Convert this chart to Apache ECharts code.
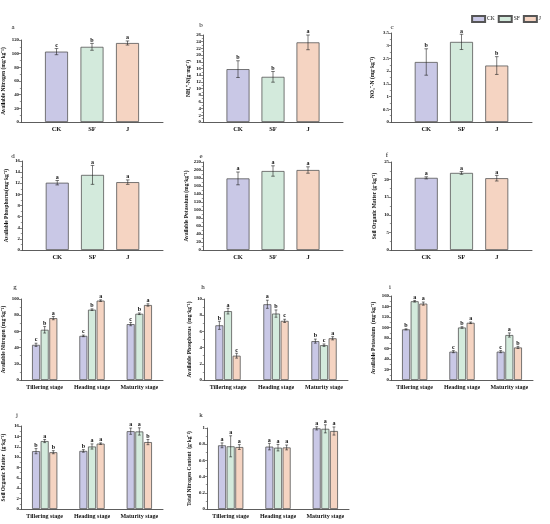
<!DOCTYPE html>
<html>
<head>
<meta charset="utf-8">
<script src="https://cdn.jsdelivr.net/npm/echarts@6/dist/echarts.min.js"></script>
<style>
  html, body { margin: 0; padding: 0; background: #fff; }
  #chart { width: 550px; height: 524px; }
</style>
</head>
<body>
<div id="chart"></div>
<script>
// categories
const treatments = ['CK', 'SF', 'J'];
const stages = ['Tillering stage', 'Heading stage', 'Maturity stage'];
const colors = ['#c9c8e6', '#d3eadc', '#f5d4c2'];

// panels a-f: one value per treatment
const availN = [103, 110, 115.6];
const availNErr = [4.5, 5, 3];
const availNSig = ['c', 'b', 'a'];

const nh4 = [15.8, 13.5, 23.8];
const nh4Err = [2.5, 1.6, 2.2];
const nh4Sig = ['b', 'b', 'a'];

const no3 = [2.36, 3.15, 2.22];
const no3Err = [0.52, 0.3, 0.35];
const no3Sig = ['b', 'a', 'b'];

const availP = [12.1, 13.5, 12.2];
const availPErr = [0.4, 1.7, 0.4];
const availPSig = ['a', 'a', 'a'];

const availK = [179, 197.5, 200];
const availKErr = [16, 13, 8];
const availKSig = ['a', 'a', 'a'];

const som = [20.5, 21.9, 20.4];
const somErr = [0.3, 0.4, 0.8];
const somSig = ['a', 'a', 'a'];

// panels g-k: rows = CK, SF, J; columns = stages
const stageN = [[43.4, 54.5, 69], [62, 86.8, 81.8], [76.4, 98, 92.6]];
const stageNErr = [[2, 1, 2], [4, 1, 1], [2, 1, 1.5]];
const stageNSig = [['c', 'c', 'c'], ['b', 'b', 'b'], ['a', 'a', 'a']];

const stageP = [[6.75, 9.35, 4.8], [8.5, 8.2, 4.3], [3.0, 7.3, 5.15]];
const stagePErr = [[0.5, 0.5, 0.25], [0.35, 0.45, 0.15], [0.3, 0.2, 0.2]];
const stagePSig = [['b', 'a', 'b'], ['a', 'b', 'c'], ['c', 'c', 'a']];

const stageK = [[96.5, 54, 54], [150, 100, 85.7], [145.5, 109, 62]];
const stageKErr = [[1, 2, 2], [1.5, 1.5, 4], [3, 1.5, 2]];
const stageKSig = [['b', 'c', 'c'], ['a', 'b', 'a'], ['a', 'a', 'b']];

const stageSom = [[11.15, 11.2, 15.0], [13.1, 12.05, 14.95], [10.95, 12.6, 12.9]];
const stageSomErr = [[0.5, 0.25, 0.6], [0.3, 0.5, 0.7], [0.3, 0.15, 0.5]];
const stageSomSig = [['b', 'b', 'a'], ['a', 'a', 'a'], ['b', 'a', 'b']];

const stageTn = [[0.786, 0.77, 0.996], [0.774, 0.757, 0.99], [0.765, 0.76, 0.963]];
const stageTnErr = [[0.03, 0.04, 0.02], [0.13, 0.04, 0.05], [0.03, 0.03, 0.05]];
const stageTnSig = [['a', 'a', 'a'], ['a', 'a', 'a'], ['a', 'a', 'a']];

const FONT = 'Liberation Serif';

// box = [left, top, width, height] of each plot area
const panels = [
  { tag: 'a', at: [13, 27], box: [21, 40, 142, 82], max: 120, step: 20, gap: 14,
    name: 'Available Nitrogen (mg·kg⁻¹)', mean: availN, err: availNErr, sig: availNSig },
  { tag: 'b', at: [201, 25], box: [203, 35, 140, 87], max: 26, step: 2, gap: 11,
    name: 'NH₄⁺-N(g·mg⁻¹)', mean: nh4, err: nh4Err, sig: nh4Sig },
  { tag: 'c', at: [392, 27], box: [391, 33, 141, 89], max: 3.5, step: 0.5, gap: 15,
    name: 'NO₃⁻-N (mg·kg⁻¹)', mean: no3, err: no3Err, sig: no3Sig },
  { tag: 'd', at: [13, 156], box: [22, 161, 141, 89], max: 16, step: 2, gap: 12,
    name: 'Available Phosphorus(mg·kg⁻¹)', mean: availP, err: availPErr, sig: availPSig },
  { tag: 'e', at: [201, 156], box: [203, 162, 140, 88], max: 220, step: 20, gap: 10,
    name: 'Available Potassium (mg·kg⁻¹)', mean: availK, err: availKErr, sig: availKSig },
  { tag: 'f', at: [387, 155], box: [391, 162, 141, 88], max: 25, step: 5, gap: 13,
    name: 'Soil Organic Matter (g·kg⁻¹)', mean: som, err: somErr, sig: somSig },
  { tag: 'g', at: [15, 287], box: [21, 299, 142, 81], max: 100, step: 20, gap: 14, grouped: true,
    name: 'Available Nitrogen (mg·kg⁻¹)', mean: stageN, err: stageNErr, sig: stageNSig },
  { tag: 'h', at: [203, 287], box: [204, 299, 144, 81], max: 10, step: 2, gap: 11, grouped: true,
    name: 'Available Phosphorus  (mg·kg⁻¹)', mean: stageP, err: stagePErr, sig: stagePSig },
  { tag: 'i', at: [390, 287], box: [391, 296, 142, 84], max: 160, step: 20, gap: 14, grouped: true,
    name: 'Available Potassium  (mg·kg⁻¹)', mean: stageK, err: stageKErr, sig: stageKSig },
  { tag: 'j', at: [17, 415], box: [21, 426, 142, 83], max: 16, step: 2, gap: 14, grouped: true,
    name: 'Soil Organic Matter  (g·kg⁻¹)', mean: stageSom, err: stageSomErr, sig: stageSomSig },
  { tag: 'k', at: [201, 415], box: [207, 428, 142, 81], max: 1.0, step: 0.2, gap: 14, grouped: true,
    name: 'Total Nitrogen Content  (g·kg⁻¹)', mean: stageTn, err: stageTnErr, sig: stageTnSig }
];

const grids = [], xAxes = [], yAxes = [], series = [], graphics = [];

/** Error bars + significance letters, drawn on the same axes as the bars
 * @param {number} i panel index
 * @param {number[][]} data [x, mean, err]
 * @param {string[]} sig
 * @param {number} dx pixel offset inside a group
 */
function errSeries(i, data, sig, dx, cap) {
  return {
    type: 'custom', xAxisIndex: i, yAxisIndex: i, data, silent: true, z: 5,
    renderItem(params, api) {
      const x = api.value(0), v = api.value(1), e = api.value(2);
      const hi = api.coord([x, v + e]);
      const lo = api.coord([x, v - e]);
      const cx = hi[0] + dx;
      const line = { stroke: '#222', lineWidth: 0.6 };
      return {
        type: 'group',
        children: [
          { type: 'line', shape: { x1: cx, y1: hi[1], x2: cx, y2: lo[1] }, style: line },
          { type: 'line', shape: { x1: cx - cap, y1: hi[1], x2: cx + cap, y2: hi[1] }, style: line },
          { type: 'line', shape: { x1: cx - cap, y1: lo[1], x2: cx + cap, y2: lo[1] }, style: line },
          { type: 'text', x: cx, y: hi[1] - 0.3,
            style: { text: sig[params.dataIndex], fill: '#111', fontSize: 6, fontWeight: 'bold',
                     fontFamily: FONT, align: 'center', verticalAlign: 'bottom' } }
        ]
      };
    }
  };
}

panels.forEach((p, i) => {
  const grouped = !!p.grouped;
  grids.push({ left: p.box[0], top: p.box[1], width: p.box[2], height: p.box[3] });
  xAxes.push({
    type: 'category', gridIndex: i,
    data: grouped ? stages : ['', ...treatments, ''],
    boundaryGap: grouped,
    axisLine: { lineStyle: { color: '#333', width: 0.8 } },
    axisTick: { show: false },
    axisLabel: { interval: 0, fontFamily: FONT, fontWeight: 'bold', fontSize: grouped ? 6 : 6.5,
                 color: '#111', margin: 4 }
  });
  yAxes.push({
    type: 'value', gridIndex: i, min: 0, max: p.max, interval: p.step,
    name: p.name, nameLocation: 'middle', nameGap: p.gap, nameRotate: 90,
    nameTextStyle: { fontFamily: FONT, fontWeight: 'bold', fontSize: 5.5, color: '#111' },
    axisLine: { show: true, lineStyle: { color: '#333', width: 0.8 } },
    axisTick: { show: true, length: 2, lineStyle: { color: '#333', width: 0.6 } },
    minorTick: { show: true, splitNumber: 2, length: 1.2, lineStyle: { color: '#333', width: 0.5 } },
    splitLine: { show: false },
    axisLabel: { fontFamily: FONT, fontWeight: 'bold', fontSize: 4.8, color: '#111', margin: 2 }
  });
  graphics.push({
    type: 'text', x: p.at[0], y: p.at[1],
    style: { text: p.tag, fontSize: 7, fontFamily: FONT, fill: '#111', align: 'center', verticalAlign: 'middle' }
  });

  if (!grouped) {
    series.push({
      type: 'bar', xAxisIndex: i, yAxisIndex: i, barWidth: 23, silent: true,
      itemStyle: { borderColor: '#555', borderWidth: 0.8 },
      data: p.mean.map((v, k) => ({ value: [k + 1, v], itemStyle: { color: colors[k] } }))
    });
    series.push(errSeries(i, p.mean.map((v, k) => [k + 1, v, p.err[k]]), p.sig, 0, 1.8));
  } else {
    const bw = 8, gap = 0.08;
    treatments.forEach((t, k) => {
      series.push({
        type: 'bar', name: t, xAxisIndex: i, yAxisIndex: i, barWidth: bw, barGap: gap * 100 + '%',
        silent: true,
        itemStyle: { color: colors[k], borderColor: '#555', borderWidth: 0.8 },
        data: p.mean[k]
      });
      series.push(errSeries(i, p.mean[k].map((v, s) => [s, v, p.err[k][s]]), p.sig[k],
                            (k - 1) * bw * (1 + gap), 1.4));
    });
  }
});

const chart = echarts.init(document.getElementById('chart'));
chart.setOption({
  animation: false,
  backgroundColor: '#fff',
  legend: {
    data: treatments, right: 4, top: 10, icon: 'rect',
    itemWidth: 13, itemHeight: 6, itemGap: 3,
    textStyle: { fontFamily: FONT, fontSize: 5.5, color: '#111', padding: [0, 0, 0, -3] }
  },
  grid: grids,
  xAxis: xAxes,
  yAxis: yAxes,
  graphic: graphics,
  series
});
</script>
</body>
</html>
